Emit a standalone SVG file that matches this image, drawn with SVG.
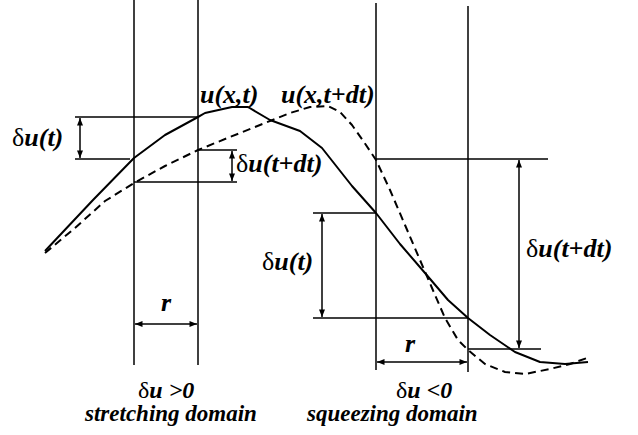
<svg xmlns="http://www.w3.org/2000/svg" width="638" height="435" viewBox="0 0 638 435">
<style>
.ln{stroke:#000;stroke-width:1.5;fill:none}
.cv{stroke:#000;stroke-width:2;fill:none;stroke-linejoin:round}
.ds{stroke-dasharray:8 5}
.ar{marker-start:url(#ah);marker-end:url(#ah)}
text{font-family:'Liberation Serif','Times New Roman',serif;font-size:26px;font-weight:bold;font-style:italic;fill:#000}
.d{font-weight:normal;font-style:normal}
.b{font-size:23px}
.c{font-size:24px}
</style>
<defs>
<marker id="ah" viewBox="0 0 10 8" refX="10" refY="4" markerWidth="8" markerHeight="6" markerUnits="userSpaceOnUse" orient="auto-start-reverse">
<path d="M0,0 L10,4 L0,8 Z" fill="#000"/>
</marker>
</defs>
<rect width="638" height="435" fill="#fff"/>
<g id="verticals">
<line class="ln" x1="134" y1="0" x2="134" y2="365"/>
<line class="ln" x1="198" y1="0" x2="198" y2="365"/>
<line class="ln" x1="376" y1="3" x2="376" y2="370"/>
<line class="ln" x1="468" y1="6" x2="468" y2="372"/>
</g>
<g id="connectors">
<line class="ln" x1="75" y1="117" x2="198" y2="117"/>
<line class="ln" x1="75" y1="159" x2="130" y2="159"/>
<line class="ln ar" x1="80" y1="118" x2="80" y2="158"/>
<line class="ln" x1="198" y1="150" x2="237" y2="150"/>
<line class="ln" x1="134" y1="182" x2="237" y2="182"/>
<line class="ln ar" x1="232" y1="151" x2="232" y2="181"/>
<line class="ln" x1="376" y1="159" x2="548" y2="159"/>
<line class="ln" x1="468" y1="349" x2="541" y2="349"/>
<line class="ln ar" x1="519" y1="160" x2="519" y2="348"/>
<line class="ln" x1="313" y1="213" x2="376" y2="213"/>
<line class="ln" x1="313" y1="318" x2="468" y2="318"/>
<line class="ln ar" x1="322" y1="214" x2="322" y2="317"/>
<line class="ln ar" x1="135" y1="324" x2="197" y2="324"/>
<line class="ln ar" x1="377" y1="362" x2="467" y2="362"/>
</g>
<g id="curves">
<polyline class="cv" points="45,251 93,200 134,158 165,135 198,117 205,113 232,107 248,107 270,120 300,131 322,148 352,186 376,213 400,244 425,273 448,300 468,318 490,335 515,352 540,362 565,364 588,362"/>
<polyline class="cv ds" points="45,253 75,228 105,201 134,183 165,166 198,150 230,137 260,125 290,113 310,107 328,106 340,112 352,125 364,142 376,160 390,190 405,225 420,260 432,288 445,318 458,340 468,350 485,364 505,372 525,374 550,369 570,364 590,357"/>
</g>
<g id="labels">
<text x="12" y="146"><tspan class="d">δ</tspan>u(t)</text>
<text x="200" y="103">u(x,t)</text>
<text x="281" y="103">u(x,t+dt)</text>
<text x="236" y="172"><tspan class="d">δ</tspan>u(t+dt)</text>
<text x="262" y="270"><tspan class="d">δ</tspan>u(t)</text>
<text x="526" y="257"><tspan class="d">δ</tspan>u(t+dt)</text>
<text x="161" y="311">r</text>
<text x="405" y="352">r</text>
<text class="c" x="138" y="398"><tspan class="d">δ</tspan>u &gt;0</text>
<text class="b" x="85" y="421">stretching domain</text>
<text class="c" x="396" y="398"><tspan class="d">δ</tspan>u &lt;0</text>
<text class="b" x="307" y="421">squeezing domain</text>
</g>
</svg>
